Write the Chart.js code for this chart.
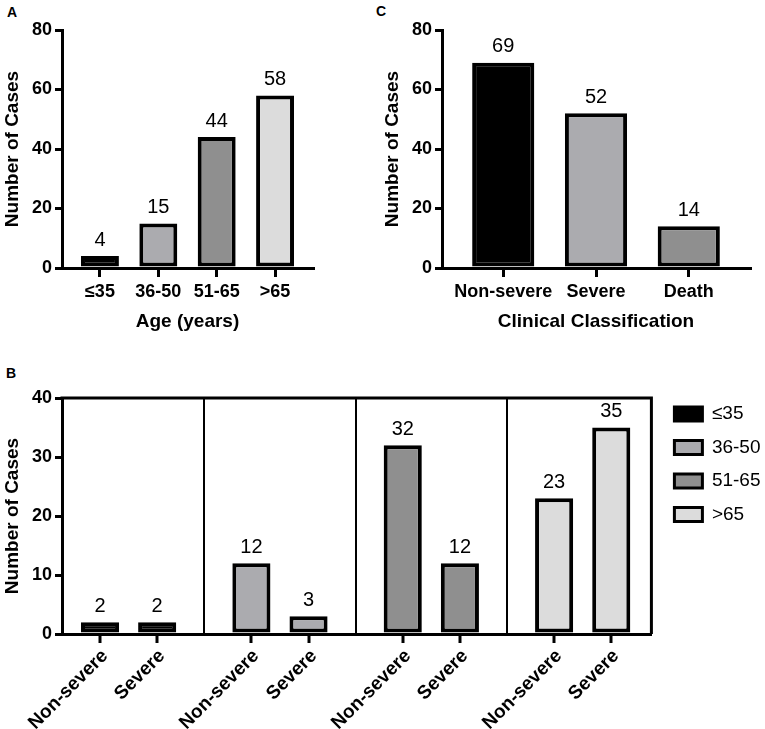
<!DOCTYPE html>
<html>
<head>
<meta charset="utf-8">
<script src="https://cdn.jsdelivr.net/npm/chart.js@4.4.1/dist/chart.umd.min.js"></script>
<style>
  body { margin: 0; background: #fff; width: 765px; height: 729px; position: relative; overflow: hidden;
         font-family: "Liberation Sans", Arial, sans-serif; }
  .panel { position: absolute; }
  .tag { position: absolute; font-weight: bold; font-size: 14px; line-height: 14px; color: #000; }
</style>
</head>
<body>
<div class="tag" style="left:7px;top:5px">A</div>
<div class="tag" style="left:376px;top:4px">C</div>
<div class="tag" style="left:6px;top:366px">B</div>

<div class="panel" style="left:0;top:0"><canvas id="chartA" width="372" height="345"></canvas></div>
<div class="panel" style="left:380px;top:0"><canvas id="chartC" width="385" height="345"></canvas></div>
<div class="panel" style="left:0;top:345px"><canvas id="chartB" width="765" height="384"></canvas></div>

<script>
// 数据
const ageLabels = ['≤35', '36-50', '51-65', '>65'];
const ageCounts = [4, 15, 44, 58];
const clinicalLabels = ['Non-severe', 'Severe', 'Death'];
const clinicalCounts = [69, 52, 14];
const severityLabels = ['Non-severe', 'Severe'];
const nonSevereByAge = [2, 12, 32, 23];
const severeByAge = [2, 3, 12, 35];
const yTicksTop = [0, 20, 40, 60, 80];
const yTicksB = [0, 10, 20, 30, 40];

// 颜色
const ageColors = ['#000000', '#ababaf', '#8f8f8f', '#dcdcdc'];
const clinicalColors = ['#000000', '#ababaf', '#8f8f8f'];

const FONT = '"Liberation Sans", Arial, sans-serif';
const tickFont = { family: FONT, size: 18, weight: 'bold' };
const titleFont = { family: FONT, size: 19, weight: 'bold' };

// 柱顶数值
const valueLabels = {
  id: 'valueLabels',
  afterDatasetsDraw(chart) {
    const ctx = chart.ctx;
    ctx.save();
    ctx.font = '20px ' + FONT;
    ctx.fillStyle = '#000';
    ctx.textAlign = 'center';
    ctx.textBaseline = 'bottom';
    chart.data.datasets.forEach((ds, di) => {
      chart.getDatasetMeta(di).data.forEach((bar, i) => {
        ctx.fillText(ds.data[i].y, bar.x, bar.y - 6);
      });
    });
    ctx.restore();
  }
};

function yAxis(ticks, title) {
  return {
    min: ticks[0],
    max: ticks[ticks.length - 1],
    afterBuildTicks: s => { s.ticks = ticks.map(v => ({ value: v })); },
    afterFit: s => { s.width = 62; },
    ticks: { color: '#000', font: tickFont, padding: 3 },
    grid: { drawOnChartArea: false, color: '#000', lineWidth: 3, tickLength: 7 },
    border: { color: '#000', width: 3 },
    title: { display: true, text: title, color: '#000', font: titleFont, padding: { top: 1, bottom: 0 } }
  };
}

function topPanel(id, labels, counts, colors, xTitle, edge, barPct, padRight) {
  return new Chart(document.getElementById(id), {
    type: 'bar',
    data: {
      datasets: [{
        data: labels.map((l, i) => ({ x: i, y: counts[i] })),
        backgroundColor: colors,
        borderColor: '#000',
        borderWidth: 4,
        borderSkipped: false,
        categoryPercentage: 1,
        barPercentage: barPct
      }]
    },
    options: {
      responsive: false,
      animation: false,
      layout: { padding: { top: 30, right: padRight, left: 0, bottom: 0 } },
      plugins: { legend: { display: false }, tooltip: { enabled: false } },
      scales: {
        x: {
          type: 'linear',
          min: -edge,
          max: labels.length - 1 + edge,
          offset: false,
          afterBuildTicks: s => { s.ticks = labels.map((_, i) => ({ value: i })); },
          afterFit: s => { s.height = 77; },
          ticks: { callback: v => labels[v], autoSkip: false, maxRotation: 0, padding: 4, color: '#000', font: tickFont },
          grid: { offset: false, drawOnChartArea: false, color: '#000', lineWidth: 3, tickLength: 9 },
          border: { color: '#000', width: 3 },
          title: { display: true, text: xTitle, color: '#000', font: titleFont, padding: { top: 4, bottom: 12 } }
        },
        y: yAxis(yTicksTop, 'Number of Cases')
      }
    },
    plugins: [valueLabels]
  });
}

topPanel('chartA', ageLabels, ageCounts, ageColors, 'Age (years)', 0.65, 0.65, 59);
topPanel('chartC', clinicalLabels, clinicalCounts, clinicalColors, 'Clinical Classification', 0.66, 0.67, 15);

// B 图: 分隔线、外框、柱下刻度和斜标签
const frameB = {
  id: 'frameB',
  afterDraw(chart) {
    const { ctx, chartArea: a, scales: { x } } = chart;
    ctx.save();
    ctx.strokeStyle = '#000';
    ctx.lineWidth = 3;
    ctx.beginPath();
    ctx.moveTo(a.left - 1.5, a.top);
    ctx.lineTo(a.right, a.top);
    ctx.lineTo(a.right, a.bottom);
    ctx.stroke();
    ctx.lineWidth = 2;
    for (let i = 0; i < ageLabels.length - 1; i++) {
      const px = Math.round(x.getPixelForValue(i + 0.5));
      ctx.beginPath();
      ctx.moveTo(px, a.top);
      ctx.lineTo(px, a.bottom);
      ctx.stroke();
    }
    ctx.lineWidth = 3;
    ctx.fillStyle = '#000';
    ctx.font = 'bold 19px ' + FONT;
    ctx.textAlign = 'right';
    ctx.textBaseline = 'middle';
    chart.data.datasets.forEach((ds, di) => {
      chart.getDatasetMeta(di).data.forEach(bar => {
        const bx = Math.round(bar.x);
        ctx.beginPath();
        ctx.moveTo(bx, a.bottom);
        ctx.lineTo(bx, a.bottom + 9);
        ctx.stroke();
        ctx.save();
        ctx.translate(bx + 5, a.bottom + 19);
        ctx.rotate(-Math.PI / 4);
        ctx.fillText(severityLabels[di], 0, 0);
        ctx.restore();
      });
    });
    ctx.restore();
  }
};

const spacer = (pos, size) => ({
  type: 'linear',
  position: pos,
  display: true,
  grid: { display: false },
  ticks: { display: false },
  border: { display: false },
  afterFit: s => { if (pos === 'top') s.height = size; else s.width = size; }
});

new Chart(document.getElementById('chartB'), {
  type: 'bar',
  data: {
    datasets: [nonSevereByAge, severeByAge].map((vals, di) => ({
      label: severityLabels[di],
      data: vals.map((v, i) => ({ x: i, y: v })),
      backgroundColor: ageColors,
      borderColor: '#000',
      borderWidth: 4,
      borderSkipped: false,
      categoryPercentage: 0.755,
      barPercentage: 0.667
    }))
  },
  options: {
    responsive: false,
    animation: false,
    layout: { padding: { top: 45, right: -5.5, left: 0, bottom: 0 } },
    plugins: {
      tooltip: { enabled: false },
      legend: {
        position: 'right',
        align: 'start',
        onClick: null,
        labels: {
          boxWidth: 28,
          boxHeight: 14,
          padding: 14.5,
          color: '#000',
          font: { family: FONT, size: 19 },
          generateLabels: () => ageLabels.map((text, i) => ({
            text, fillStyle: ageColors[i], strokeStyle: '#000', lineWidth: 3, hidden: false, datasetIndex: 0
          }))
        }
      }
    },
    scales: {
      x: {
        type: 'linear',
        min: -0.44,
        max: ageLabels.length - 1 + 0.454,
        offset: false,
        afterBuildTicks: s => { s.ticks = ageLabels.map((_, i) => ({ value: i })); },
        afterFit: s => { s.height = 95; },
        ticks: { display: false },
        grid: { display: false },
        border: { color: '#000', width: 3 }
      },
      y: yAxis(yTicksB, 'Number of Cases'),
      xTop: spacer('top', 8),
      yRight: spacer('right', 8.5)
    }
  },
  plugins: [valueLabels, frameB]
});
</script>
</body>
</html>
